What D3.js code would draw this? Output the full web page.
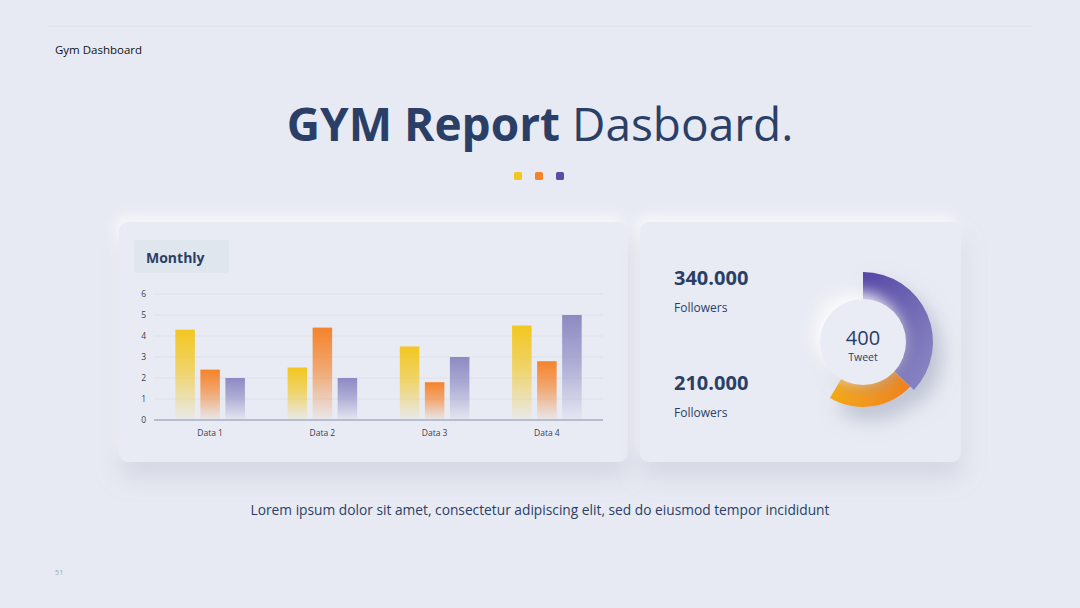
<!DOCTYPE html>
<html>
<head>
<meta charset="utf-8">
<script src="https://cdn.jsdelivr.net/npm/d3@7"></script>
<style>
  html, body { margin: 0; padding: 0; background: #e7eaf3; }
  svg { display: block; font-family: "Open Sans", sans-serif; }
</style>
</head>
<body>
<div id="imagen"></div>
<script>
// chart data
var categories = ["Data 1", "Data 2", "Data 3", "Data 4"];
var seriesNames = ["s1", "s2", "s3"];
var series1 = [4.3, 2.5, 3.5, 4.5];
var series2 = [2.4, 4.4, 1.8, 2.8];
var series3 = [2, 2, 3, 5];
var yTicks = [0, 1, 2, 3, 4, 5, 6];

// donut (share of full circle, the rest is empty)
var donutNames = ["purple", "orange", "rest"];
var donutValues = [37, 21.5, 41.5];

var statValues = ["340.000", "210.000"];
var statLabels = ["Followers", "Followers"];

var width = 1080;
var height = 608;
var navy = "#2b3f66";

var svg = d3.select("#imagen").append("svg")
  .attr("width", width)
  .attr("height", height);

var defs = svg.append("defs");

// soft card shadow
var sh = defs.append("filter").attr("id", "cardShadow")
  .attr("x", "-20%").attr("y", "-20%").attr("width", "140%").attr("height", "150%");
sh.append("feDropShadow").attr("dx", 0).attr("dy", 14).attr("stdDeviation", 12)
  .attr("flood-color", "#9aa0b8").attr("flood-opacity", 0.35);
sh.append("feDropShadow").attr("dx", -4).attr("dy", -6).attr("stdDeviation", 6)
  .attr("flood-color", "#ffffff").attr("flood-opacity", 0.7);

var dsh = defs.append("filter").attr("id", "donutShadow")
  .attr("x", "-50%").attr("y", "-50%").attr("width", "200%").attr("height", "200%");
dsh.append("feDropShadow").attr("dx", 8).attr("dy", 12).attr("stdDeviation", 10)
  .attr("flood-color", "#8f95ad").attr("flood-opacity", 0.5);

var discSh = defs.append("filter").attr("id", "discShadow")
  .attr("x", "-60%").attr("y", "-60%").attr("width", "220%").attr("height", "220%");
discSh.append("feDropShadow").attr("dx", -7).attr("dy", -7).attr("stdDeviation", 8)
  .attr("flood-color", "#ffffff").attr("flood-opacity", 0.9);
discSh.append("feDropShadow").attr("dx", 5).attr("dy", 6).attr("stdDeviation", 6)
  .attr("flood-color", "#9aa0b8").attr("flood-opacity", 0.35);

// bar gradients, fading to the bottom
var barColors = ["#f3c71f", "#f5832b", "#8d8ac3"];
barColors.forEach(function(c, i) {
  var g = defs.append("linearGradient").attr("id", "bar" + i)
    .attr("x1", 0).attr("y1", 0).attr("x2", 0).attr("y2", 1);
  g.append("stop").attr("offset", "0%").attr("stop-color", c).attr("stop-opacity", 1);
  g.append("stop").attr("offset", "45%").attr("stop-color", c).attr("stop-opacity", 0.65);
  g.append("stop").attr("offset", "100%").attr("stop-color", c).attr("stop-opacity", 0.04);
});

var gp = defs.append("linearGradient").attr("id", "gPurple")
  .attr("x1", 0).attr("y1", 0).attr("x2", 1).attr("y2", 1);
gp.append("stop").attr("offset", "0%").attr("stop-color", "#5245a4");
gp.append("stop").attr("offset", "100%").attr("stop-color", "#8f8cc6");

var go = defs.append("linearGradient").attr("id", "gOrange")
  .attr("x1", 0).attr("y1", 0).attr("x2", 1).attr("y2", 0);
go.append("stop").attr("offset", "0%").attr("stop-color", "#f4aa18");
go.append("stop").attr("offset", "100%").attr("stop-color", "#ef8120");

// header
svg.append("line")
  .attr("x1", 48).attr("x2", 1032).attr("y1", 26).attr("y2", 26)
  .attr("stroke", "#dcdfe9").attr("stroke-width", 1);

svg.append("text")
  .attr("x", 55).attr("y", 54)
  .attr("font-size", "11.5px")
  .attr("fill", "#111")
  .text("Gym Dashboard");

var title = svg.append("text")
  .attr("x", 540).attr("y", 141)
  .attr("text-anchor", "middle")
  .attr("font-size", "46px")
  .attr("fill", navy);
title.append("tspan").attr("font-weight", "bold").text("GYM Report ");
title.append("tspan").text("Dasboard.");

svg.selectAll(".dot")
  .data(barColors.map(function(c, i) { return i == 2 ? "#5a4ea4" : c; }))
  .enter().append("rect")
  .attr("class", "dot")
  .attr("x", function(d, i) { return 514 + i * 21; })
  .attr("y", 172)
  .attr("width", 8).attr("height", 8)
  .attr("rx", 1.5)
  .attr("fill", function(d) { return d; });

// cards
svg.append("rect")
  .attr("x", 119).attr("y", 222).attr("width", 509).attr("height", 240)
  .attr("rx", 9)
  .attr("fill", "#e8ebf3")
  .attr("filter", "url(#cardShadow)");
svg.append("rect")
  .attr("x", 640).attr("y", 222).attr("width", 321).attr("height", 240)
  .attr("rx", 9)
  .attr("fill", "#e8ebf3")
  .attr("filter", "url(#cardShadow)");

// monthly chip
svg.append("rect")
  .attr("x", 134).attr("y", 240).attr("width", 95).attr("height", 33)
  .attr("rx", 3)
  .attr("fill", "#e0e6ee");
svg.append("text")
  .attr("x", 146).attr("y", 263)
  .attr("font-size", "14px").attr("font-weight", "bold")
  .attr("fill", navy)
  .text("Monthly");

// bar chart
var plotLeft = 154, plotRight = 603, plotTop = 294, plotBottom = 420;

var y = d3.scaleLinear().domain([0, 6]).range([plotBottom, plotTop]);
var x0 = d3.scaleBand().domain(categories).range([plotLeft, plotRight])
  .paddingInner(0.38).paddingOuter(0.19);
var x1 = d3.scaleBand().domain(seriesNames).range([0, x0.bandwidth()])
  .paddingInner(0.22);

var chart = svg.append("g");

chart.selectAll(".grid")
  .data(yTicks.filter(function(t) { return t > 0; }))
  .enter().append("line")
  .attr("class", "grid")
  .attr("x1", plotLeft).attr("x2", plotRight)
  .attr("y1", function(d) { return y(d); })
  .attr("y2", function(d) { return y(d); })
  .attr("stroke", "#dde1eb").attr("stroke-width", 1);

var yAxis = chart.append("g")
  .attr("transform", "translate(" + (plotLeft - 8) + ",0)")
  .call(d3.axisLeft(y).tickValues(yTicks).tickFormat(d3.format("d")).tickSize(0).tickPadding(0));
yAxis.select(".domain").remove();
yAxis.selectAll("text")
  .attr("font-size", "8.5px")
  .attr("font-family", "Open Sans, sans-serif")
  .attr("fill", "#3a3f4f");

var rows = categories.map(function(c, i) {
  return { cat: c, vals: [series1[i], series2[i], series3[i]] };
});

var groups = chart.selectAll(".grp")
  .data(rows)
  .enter().append("g")
  .attr("class", "grp")
  .attr("transform", function(d) { return "translate(" + x0(d.cat) + ",0)"; });

groups.selectAll("rect")
  .data(function(d) { return d.vals; })
  .enter().append("rect")
  .attr("x", function(d, i) { return x1(seriesNames[i]); })
  .attr("y", function(d) { return y(d); })
  .attr("width", x1.bandwidth())
  .attr("height", function(d) { return y(0) - y(d); })
  .attr("fill", function(d, i) { return "url(#bar" + i + ")"; });

chart.append("line")
  .attr("x1", plotLeft).attr("x2", plotRight)
  .attr("y1", y(0)).attr("y2", y(0))
  .attr("stroke", "#a7acc2").attr("stroke-width", 1.3);

var xAxis = chart.append("g")
  .attr("transform", "translate(0," + y(0) + ")")
  .call(d3.axisBottom(x0).tickSize(0).tickPadding(10));
xAxis.select(".domain").remove();
xAxis.selectAll("text")
  .attr("font-size", "8.5px")
  .attr("font-family", "Open Sans, sans-serif")
  .attr("fill", "#3a3f4f");

// stats
var stats = svg.selectAll(".stat")
  .data(statValues)
  .enter().append("g")
  .attr("class", "stat")
  .attr("transform", function(d, i) { return "translate(674," + (285 + i * 105) + ")"; });
stats.append("text")
  .attr("font-size", "20px").attr("font-weight", "bold")
  .attr("fill", navy)
  .text(function(d) { return d; });
stats.append("text")
  .attr("y", 27)
  .attr("font-size", "12px")
  .attr("fill", navy)
  .text(function(d, i) { return statLabels[i]; });

// donut
var cx = 863, cy = 342;
var pie = d3.pie().sort(null).value(function(d) { return d; });
var arcs = pie(donutValues);
var outerR = [70, 65];
var donut = svg.append("g")
  .attr("transform", "translate(" + cx + "," + cy + ")");

var ring = donut.append("g").attr("filter", "url(#donutShadow)");
ring.selectAll("path")
  .data(arcs.slice(0, 2))
  .enter().append("path")
  .attr("d", function(d, i) {
    return d3.arc().innerRadius(40).outerRadius(outerR[i])(d);
  })
  .attr("fill", function(d, i) { return i == 0 ? "url(#gPurple)" : "url(#gOrange)"; });

donut.append("circle")
  .attr("r", 43)
  .attr("fill", "#e9ecf4")
  .attr("filter", "url(#discShadow)");

donut.append("text")
  .attr("y", 3)
  .attr("text-anchor", "middle")
  .attr("font-size", "20px")
  .attr("fill", navy)
  .text("400");
donut.append("text")
  .attr("y", 19)
  .attr("text-anchor", "middle")
  .attr("font-size", "10.5px")
  .attr("fill", navy)
  .text("Tweet");

// footer
svg.append("text")
  .attr("x", 540).attr("y", 515)
  .attr("text-anchor", "middle")
  .attr("font-size", "13.75px")
  .attr("fill", navy)
  .text("Lorem ipsum dolor sit amet, consectetur adipiscing elit, sed do eiusmod tempor incididunt");

svg.append("text")
  .attr("x", 55).attr("y", 575)
  .attr("font-size", "7.5px")
  .attr("fill", "#a8acb8")
  .text("51");
</script>
</body>
</html>
